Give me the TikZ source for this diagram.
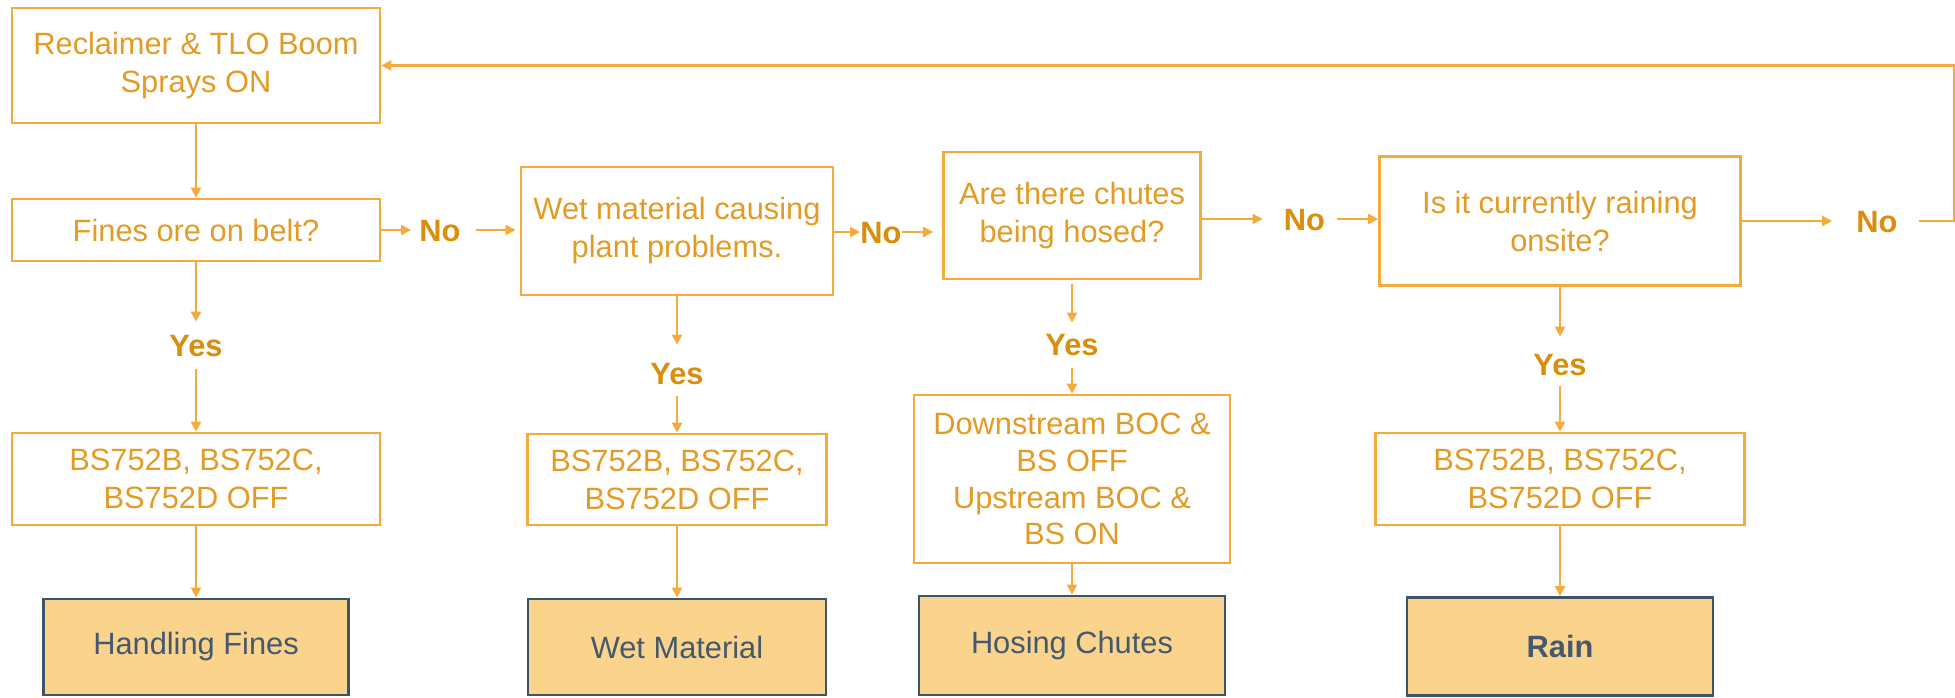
\documentclass[tikz,border=0pt]{standalone}
\usepackage{fontspec}
\setmainfont{Liberation Sans}
\usetikzlibrary{arrows.meta,calc}
\definecolor{lineor}{HTML}{F5AB3C}
\definecolor{txtor}{HTML}{E39B24}
\definecolor{lblor}{HTML}{D98E0C}
\definecolor{endfill}{HTML}{FAD48C}
\definecolor{slate}{HTML}{3D5568}
\definecolor{slatetxt}{HTML}{44596E}
\tikzset{
  box/.style={draw=lineor, line width=1.3pt, fill=white, text=txtor, align=center, inner sep=0pt,
    font=\fontsize{15.4}{19}\selectfont},
  endbox/.style={draw=slate, line width=1.4pt, fill=endfill, text=slatetxt, align=center, inner sep=0pt,
    font=\fontsize{15.4}{19}\selectfont},
  lbl/.style={text=lblor, font=\fontsize{15.4}{19}\selectfont\bfseries, inner xsep=4pt, inner ysep=0pt,
    text height=11pt, text depth=0pt},
  arr/.style={draw=lineor, line width=1.1pt, -{Triangle[length=5pt,width=5pt]}},
  ln/.style={draw=lineor, line width=1.1pt}
}
\begin{document}
\begin{tikzpicture}[x=0.5pt,y=-0.5pt]
\fill[white] (0,0) rectangle (1955,697);
\useasboundingbox (0,0) rectangle (1955,697);

% top row
\node[box, minimum width=184pt, minimum height=57.5pt] (recl) at (196,65.5) {Reclaimer \& TLO Boom\\Sprays ON};
\node[box, minimum width=184pt, minimum height=31pt] (fines) at (196,230) {Fines ore on belt?};
\node[box, minimum width=156pt, minimum height=64pt] (wet) at (677,231) {Wet material causing\\plant problems.};
\node[box, minimum width=128.5pt, minimum height=63.5pt] (chutes) at (1072,215.5) {Are there chutes\\being hosed?};
\node[box, minimum width=180.5pt, minimum height=64.5pt] (rainq) at (1560,221) {Is it currently raining\\onsite?};

% labels
\node[lbl] (no1) at (440,230) {No};
\node[lbl, inner xsep=0pt] (no2) at (881,232) {No};
\node[lbl] (no3) at (1304.5,219) {No};
\node[lbl] (no4) at (1877,221) {No};
\node[lbl] (yes1) at (196,345) {Yes};
\node[lbl] (yes2) at (677,373) {Yes};
\node[lbl] (yes3) at (1072,344) {Yes};
\node[lbl] (yes4) at (1560,364) {Yes};

% action boxes
\node[box, minimum width=184pt, minimum height=46pt] (bs1) at (196,479) {BS752B, BS752C,\\BS752D OFF};
\node[box, minimum width=149.5pt, minimum height=45.5pt] (bs2) at (677,479.5) {BS752B, BS752C,\\BS752D OFF};
\node[box, minimum width=158pt, minimum height=84pt, font=\fontsize{15.4}{18.4}\selectfont] (ds) at (1072,479) {Downstream BOC \&\\BS OFF\\Upstream BOC \&\\BS ON};
\node[box, minimum width=184.5pt, minimum height=46pt] (bs4) at (1560,479) {BS752B, BS752C,\\BS752D OFF};

% end boxes
\node[endbox, minimum width=152.5pt, minimum height=48pt] (hf) at (196,647) {Handling Fines};
\node[endbox, minimum width=149pt, minimum height=48pt] (wm) at (677,647) {Wet Material};
\node[endbox, minimum width=153pt, minimum height=49.5pt] (hc) at (1072,645.5) {Hosing Chutes};
\node[endbox, minimum width=153pt, minimum height=49pt] (rend) at (1560,646.5) {\bfseries Rain};

\coordinate (fbx) at (1954,66);

% horizontal flow
\draw[arr] (recl.south) -- (fines.north);
\draw[arr] (fines.east) -- (no1.west);
\draw[arr, shorten <=3.5pt, shorten >=2pt] (no1.east) -- (no1.east -| wet.west);
\draw[arr] (no2.west -| wet.east) -- (no2.west);
\draw[arr, shorten >=4.5pt] (no2.east) -- (no2.east -| chutes.west);
\draw[arr, shorten >=6.5pt] (no3.west -| chutes.east) -- (no3.west);
\draw[arr, shorten <=2pt] (no3.east) -- (no3.east -| rainq.west);
\draw[arr, shorten >=8pt] (rainq.east) -- (no4.west);
\draw[arr, shorten <=6.5pt] (no4.east) -- (fbx |- no4.east) |- (recl.east);

% vertical flow
\draw[arr, shorten >=6pt] (fines.south) -- (yes1.north);
\draw[arr, shorten <=6.5pt] (yes1.south) -- (bs1.north);
\draw[arr] (bs1.south) -- (hf.north);

\draw[arr, shorten >=8.5pt] (wet.south) -- (yes2.north);
\draw[arr, shorten <=6pt] (yes2.south) -- (bs2.north);
\draw[arr] (bs2.south) -- (wm.north);

\draw[arr, shorten <=2pt, shorten >=5pt] (chutes.south) -- (yes3.north);
\draw[arr, shorten <=6.5pt] (yes3.south) -- (ds.north);
\draw[arr] (ds.south) -- (hc.north);

\draw[arr, shorten >=8pt] (rainq.south) -- (yes4.north);
\draw[arr, shorten <=5.5pt] (yes4.south) -- (bs4.north);
\draw[arr] (bs4.south) -- (rend.north);
\end{tikzpicture}
\end{document}
